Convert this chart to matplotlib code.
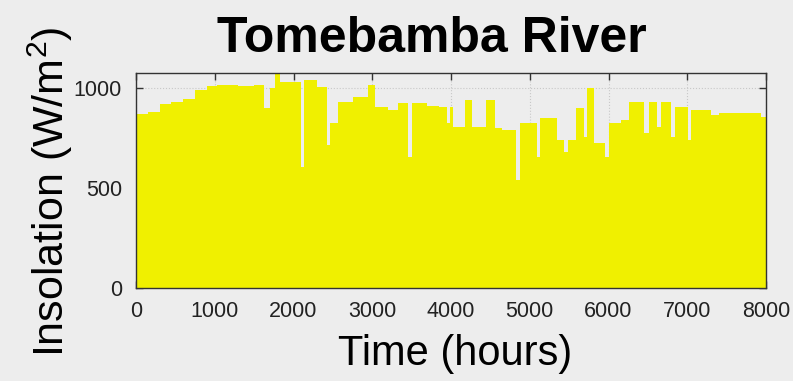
import numpy as np
import matplotlib
matplotlib.use("Agg")
import matplotlib.pyplot as plt

plt.rcParams['font.family'] = ['Liberation Sans', 'DejaVu Sans']
plt.rcParams['mathtext.default'] = 'regular'

# start hour of each stretch and the daily peak insolation (W/m2)
seg_start = [0, 150, 300, 450, 600, 750, 900, 1030, 1300, 1500,
             1620, 1700, 1760, 1830, 2090, 2130, 2300, 2420, 2460, 2570,
             2750, 2950, 3040, 3200, 3330, 3460, 3510, 3700, 3850, 3950,
             3990, 4020, 4180, 4270, 4440, 4560, 4650, 4830, 4880, 5090,
             5130, 5340, 5440, 5480, 5590, 5690, 5730, 5810, 5960, 6000,
             6160, 6260, 6450, 6510, 6620, 6660, 6790, 6850, 7010, 7050,
             7300, 7400, 7780, 7940]
seg_end = 8000
peak = [870, 880, 920, 930, 945, 990, 1010, 1015, 1010, 1015,
        900, 1000, 1080, 1030, 605, 1040, 1005, 715, 825, 930,
        955, 1015, 905, 890, 925, 655, 925, 910, 905, 825,
        905, 805, 940, 805, 940, 800, 790, 540, 825, 655,
        850, 740, 680, 740, 900, 755, 1000, 725, 655, 825,
        840, 930, 775, 930, 805, 930, 755, 905, 740, 890,
        865, 875, 875, 855]

x_ticks = [0, 1000, 2000, 3000, 4000, 5000, 6000, 7000, 8000]
y_ticks = [0, 500, 1000]

bg = '#ededed'
fig = plt.figure(figsize=(7.93, 3.81), dpi=100, facecolor=bg)
ax = fig.add_axes([0.1715, 0.244, 0.7945, 0.564], facecolor=bg)

edges = np.array(seg_start + [seg_end])
ax.stairs(peak, edges, fill=True, color='#f0f000', zorder=2)

ax.set_xlim(0, 8000)
ax.set_ylim(0, 1075)
ax.set_xticks(x_ticks)
ax.set_yticks(y_ticks)
ax.grid(True, color='#c8c8c8', linestyle=':', linewidth=0.8, zorder=0)
ax.set_axisbelow(True)
ax.tick_params(direction='in', top=True, right=True, labelsize=15.5,
               length=5, width=1, colors='#333333', labelcolor='#222222')
ax.tick_params(axis='x', pad=9)
ax.tick_params(axis='y', pad=10)
for s in ax.spines.values():
    s.set_color('#333333')
    s.set_linewidth(1)

ax.text(0.47, 1.1, 'Tomebamba River', transform=ax.transAxes,
        fontsize=36, fontweight='bold', ha='center', va='baseline')
ax.set_xlabel('Time (hours)', fontsize=30)
ax.xaxis.set_label_coords(0.506, -0.215)
ax.set_ylabel('Insolation (W/m$^2$)', fontsize=31)
ax.yaxis.set_label_coords(-0.097, 0.447)

fig.savefig('out.png', dpi=100, facecolor=bg)
